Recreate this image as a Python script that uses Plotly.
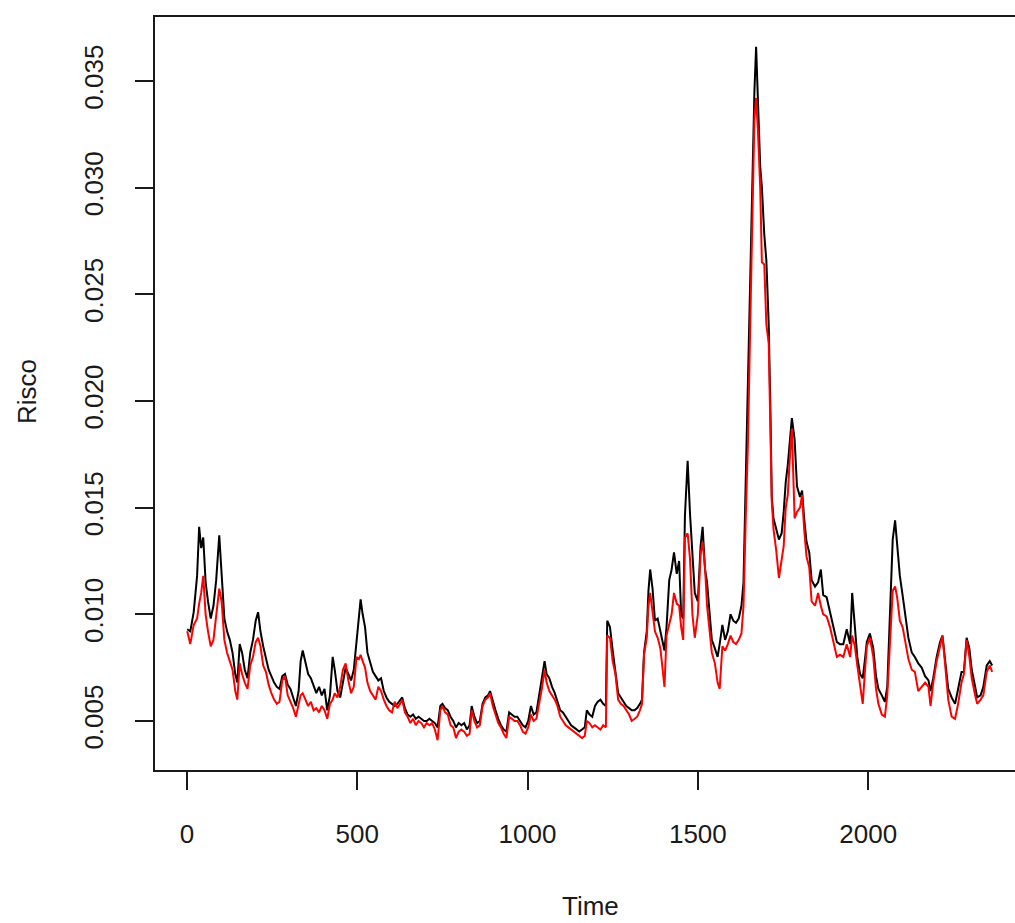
import plotly.graph_objects as go

# Time index of the sampled observations
time = [
    1, 10, 20, 30, 36, 42, 48, 55, 62, 70, 78, 86, 95, 102, 110, 118, 126, 134, 142, 148,
    155, 162, 170, 178, 186, 194, 202, 209, 216, 224, 232, 240, 248, 256, 264, 272, 280, 288, 296, 304,
    312, 320, 328, 334, 340, 348, 356, 364, 372, 380, 388, 396, 404, 412, 420, 428, 434, 442, 450, 458,
    466, 474, 482, 490, 498, 505, 510, 516, 523, 530, 538, 546, 554, 562, 570, 578, 586, 594, 602, 610,
    618, 626, 632, 640, 648, 656, 664, 672, 680, 688, 696, 704, 712, 720, 728, 736, 744, 750, 758, 766,
    774, 782, 790, 798, 806, 814, 822, 830, 836, 844, 852, 860, 868, 876, 884, 890, 898, 906, 914, 922,
    930, 938, 946, 954, 962, 970, 978, 986, 994, 1002, 1010, 1018, 1026, 1034, 1042, 1050, 1056, 1064, 1072, 1080,
    1088, 1096, 1104, 1112, 1120, 1128, 1136, 1144, 1152, 1160, 1168, 1174, 1182, 1190, 1198, 1206, 1214, 1222, 1230, 1234,
    1242, 1250, 1258, 1266, 1274, 1282, 1290, 1298, 1306, 1314, 1322, 1330, 1336, 1342, 1350, 1355, 1360, 1367, 1374, 1382,
    1390, 1398, 1402, 1408, 1416, 1423, 1430, 1438, 1445, 1451, 1457, 1462, 1470, 1477, 1484, 1491, 1500, 1508, 1514, 1521,
    1527, 1534, 1541, 1550, 1558, 1564, 1572, 1580, 1588, 1596, 1604, 1612, 1620, 1628, 1634, 1641, 1647, 1654, 1661, 1666,
    1671, 1676, 1683, 1688, 1695, 1701, 1708, 1713, 1717, 1722, 1730, 1738, 1746, 1752, 1758, 1764, 1771, 1776, 1784, 1791,
    1800, 1806, 1812, 1819, 1827, 1834, 1844, 1853, 1861, 1868, 1878, 1888, 1898, 1908, 1917, 1927, 1937, 1947, 1953, 1961,
    1968, 1976, 1984, 1990, 1996, 2005, 2015, 2023, 2030, 2040, 2049, 2056, 2064, 2072, 2079, 2085, 2093, 2101, 2108, 2118,
    2128, 2137, 2147, 2157, 2167, 2177, 2183, 2191, 2201, 2211, 2218, 2225, 2235, 2245, 2255, 2264, 2274, 2281, 2289, 2297,
    2304, 2314, 2320, 2330, 2338, 2348, 2357, 2364,
]

# First risk series (drawn in black)
risco_1 = [
    0.0093, 0.0092, 0.0101, 0.0118, 0.0141, 0.0131, 0.0136, 0.0115, 0.0106, 0.0098, 0.0104, 0.0116, 0.0137, 0.0118, 0.0098, 0.0092, 0.0088, 0.0082, 0.0072, 0.0068,
    0.0086, 0.0082, 0.0074, 0.0070, 0.0082, 0.0088, 0.0097, 0.0101, 0.0092, 0.0085, 0.0080, 0.0074, 0.0071, 0.0068, 0.0066, 0.0065, 0.0071, 0.0072, 0.0067, 0.0065,
    0.0061, 0.0057, 0.0064, 0.0078, 0.0083, 0.0078, 0.0072, 0.0070, 0.0066, 0.0063, 0.0066, 0.0062, 0.0065, 0.0055, 0.0062, 0.0080, 0.0074, 0.0064, 0.0061, 0.0068,
    0.0075, 0.0072, 0.0069, 0.0074, 0.0088, 0.0100, 0.0107, 0.0100, 0.0094, 0.0082, 0.0078, 0.0073, 0.0071, 0.0069, 0.0070, 0.0064, 0.0061, 0.0059, 0.0058, 0.0057,
    0.0058, 0.0060, 0.0061, 0.0056, 0.0053, 0.0052, 0.0053, 0.0051, 0.0052, 0.0051, 0.0050, 0.0050, 0.0051, 0.0050, 0.0049, 0.0047, 0.0057, 0.0058, 0.0056, 0.0055,
    0.0052, 0.0050, 0.0047, 0.0049, 0.0048, 0.0049, 0.0046, 0.0048, 0.0057, 0.0052, 0.0049, 0.0050, 0.0058, 0.0061, 0.0062, 0.0064, 0.0059, 0.0055, 0.0051, 0.0048,
    0.0046, 0.0045, 0.0054, 0.0053, 0.0052, 0.0052, 0.0050, 0.0048, 0.0047, 0.0050, 0.0057, 0.0053, 0.0054, 0.0062, 0.0068, 0.0078, 0.0072, 0.0070, 0.0066, 0.0063,
    0.0059, 0.0055, 0.0054, 0.0052, 0.0050, 0.0048, 0.0047, 0.0046, 0.0045, 0.0046, 0.0047, 0.0055, 0.0053, 0.0052, 0.0057, 0.0059, 0.0060, 0.0058, 0.0057, 0.0097,
    0.0094, 0.0083, 0.0074, 0.0063, 0.0061, 0.0059, 0.0057, 0.0056, 0.0055, 0.0055, 0.0056, 0.0058, 0.0060, 0.0082, 0.0092, 0.0111, 0.0121, 0.0112, 0.0097, 0.0098,
    0.0092, 0.0086, 0.0083, 0.0094, 0.0116, 0.0121, 0.0129, 0.0119, 0.0125, 0.0100, 0.0098, 0.0146, 0.0172, 0.0147, 0.0130, 0.0110, 0.0106, 0.0132, 0.0141, 0.0121,
    0.0115, 0.0101, 0.0088, 0.0084, 0.0080, 0.0086, 0.0095, 0.0088, 0.0092, 0.0100, 0.0097, 0.0096, 0.0098, 0.0104, 0.0115, 0.0166, 0.0212, 0.0256, 0.0320, 0.0345,
    0.0366, 0.0341, 0.0310, 0.0300, 0.0278, 0.0266, 0.0236, 0.0196, 0.0155, 0.0145, 0.0140, 0.0135, 0.0138, 0.0148, 0.0162, 0.0170, 0.0183, 0.0192, 0.0182, 0.0160,
    0.0155, 0.0158, 0.0145, 0.0134, 0.0129, 0.0116, 0.0113, 0.0115, 0.0121, 0.0109, 0.0108, 0.0101, 0.0094, 0.0087, 0.0086, 0.0086, 0.0093, 0.0086, 0.0110, 0.0094,
    0.0080, 0.0072, 0.0070, 0.0078, 0.0087, 0.0091, 0.0084, 0.0071, 0.0065, 0.0062, 0.0059, 0.0066, 0.0105, 0.0135, 0.0144, 0.0133, 0.0118, 0.0109, 0.0100, 0.0089,
    0.0082, 0.0080, 0.0077, 0.0075, 0.0071, 0.0069, 0.0064, 0.0070, 0.0080, 0.0087, 0.0090, 0.0079, 0.0065, 0.0061, 0.0058, 0.0065, 0.0073, 0.0073, 0.0089, 0.0084,
    0.0074, 0.0066, 0.0061, 0.0062, 0.0066, 0.0076, 0.0078, 0.0076,
]

# Second risk series (drawn in red)
risco_2 = [
    0.0092, 0.0086, 0.0095, 0.0098, 0.0105, 0.0110, 0.0118, 0.0100, 0.0092, 0.0085, 0.0088, 0.0098, 0.0112, 0.0106, 0.0088, 0.0082, 0.0078, 0.0074, 0.0064, 0.0060,
    0.0077, 0.0072, 0.0068, 0.0065, 0.0076, 0.0080, 0.0087, 0.0089, 0.0085, 0.0076, 0.0073, 0.0067, 0.0063, 0.0060, 0.0058, 0.0059, 0.0069, 0.0071, 0.0062, 0.0059,
    0.0056, 0.0052, 0.0058, 0.0062, 0.0063, 0.0060, 0.0057, 0.0059, 0.0055, 0.0056, 0.0054, 0.0057, 0.0055, 0.0051, 0.0058, 0.0060, 0.0063, 0.0061, 0.0066, 0.0074,
    0.0077, 0.0069, 0.0063, 0.0066, 0.0080, 0.0079, 0.0081, 0.0078, 0.0075, 0.0068, 0.0064, 0.0062, 0.0060, 0.0066, 0.0064, 0.0060, 0.0057, 0.0055, 0.0054, 0.0059,
    0.0056, 0.0058, 0.0060, 0.0054, 0.0052, 0.0049, 0.0051, 0.0048, 0.0050, 0.0049, 0.0047, 0.0049, 0.0048, 0.0049, 0.0046, 0.0041, 0.0055, 0.0057, 0.0054, 0.0053,
    0.0048, 0.0047, 0.0042, 0.0045, 0.0046, 0.0045, 0.0043, 0.0044, 0.0055, 0.0050, 0.0047, 0.0048, 0.0057, 0.0060, 0.0061, 0.0063, 0.0057, 0.0053, 0.0049, 0.0047,
    0.0044, 0.0042, 0.0052, 0.0051, 0.0050, 0.0050, 0.0048, 0.0045, 0.0044, 0.0047, 0.0053, 0.0050, 0.0051, 0.0058, 0.0065, 0.0074, 0.0068, 0.0064, 0.0062, 0.0060,
    0.0057, 0.0052, 0.0050, 0.0048, 0.0047, 0.0046, 0.0045, 0.0044, 0.0043, 0.0042, 0.0043, 0.0050, 0.0049, 0.0047, 0.0048, 0.0047, 0.0046, 0.0048, 0.0047, 0.0090,
    0.0089, 0.0078, 0.0072, 0.0060, 0.0058, 0.0057, 0.0055, 0.0053, 0.0050, 0.0051, 0.0052, 0.0055, 0.0058, 0.0081, 0.0089, 0.0104, 0.0110, 0.0101, 0.0092, 0.0089,
    0.0084, 0.0072, 0.0066, 0.0090, 0.0096, 0.0100, 0.0110, 0.0105, 0.0104, 0.0094, 0.0088, 0.0136, 0.0138, 0.0126, 0.0100, 0.0089, 0.0100, 0.0128, 0.0134, 0.0122,
    0.0104, 0.0094, 0.0082, 0.0077, 0.0068, 0.0065, 0.0085, 0.0083, 0.0086, 0.0090, 0.0087, 0.0086, 0.0088, 0.0091, 0.0104, 0.0148, 0.0180, 0.0238, 0.0290, 0.0332,
    0.0342, 0.0328, 0.0300, 0.0265, 0.0264, 0.0236, 0.0227, 0.0194, 0.0153, 0.0140, 0.0130, 0.0117, 0.0126, 0.0132, 0.0150, 0.0156, 0.0176, 0.0187, 0.0145, 0.0148,
    0.0150, 0.0156, 0.0140, 0.0127, 0.0122, 0.0106, 0.0104, 0.0110, 0.0104, 0.0100, 0.0099, 0.0094, 0.0087, 0.0080, 0.0081, 0.0080, 0.0086, 0.0080, 0.0090, 0.0085,
    0.0076, 0.0067, 0.0058, 0.0072, 0.0085, 0.0089, 0.0080, 0.0065, 0.0058, 0.0053, 0.0052, 0.0062, 0.0089, 0.0111, 0.0113, 0.0108, 0.0097, 0.0094, 0.0088, 0.0079,
    0.0074, 0.0073, 0.0064, 0.0066, 0.0068, 0.0066, 0.0057, 0.0068, 0.0078, 0.0085, 0.0090, 0.0078, 0.0060, 0.0052, 0.0051, 0.0058, 0.0068, 0.0072, 0.0088, 0.0080,
    0.0070, 0.0062, 0.0058, 0.0060, 0.0062, 0.0073, 0.0076, 0.0073,
]

x_ticks = [0, 500, 1000, 1500, 2000]
y_ticks = [0.005, 0.010, 0.015, 0.020, 0.025, 0.030, 0.035]

FONT = "Liberation Sans Narrow, Arial Narrow, Liberation Sans, Arial, sans-serif"
INK = "#1a1a1a"

fig = go.Figure()
fig.add_trace(go.Scatter(x=time, y=risco_1, mode="lines",
                         line=dict(color="black", width=2), showlegend=False))
fig.add_trace(go.Scatter(x=time, y=risco_2, mode="lines",
                         line=dict(color="#ff0000", width=2), showlegend=False))

fig.update_layout(
    width=1015, height=923,
    margin=dict(l=155, r=0, t=17, b=153),
    paper_bgcolor="white", plot_bgcolor="white",
    font=dict(family=FONT, color=INK, size=26),
    xaxis=dict(
        range=[-93.6, 2431], tickmode="array", tickvals=x_ticks,
        ticktext=[str(v) for v in x_ticks],
        showgrid=False, zeroline=False,
        showline=True, linecolor=INK, linewidth=2, mirror=True,
        ticks="outside", ticklen=18, tickwidth=1.5, tickcolor=INK,
        ticklabelstandoff=22,
        tickfont=dict(family=FONT, size=26, color=INK),
    ),
    yaxis=dict(
        range=[0.0027, 0.0380], tickmode="array", tickvals=y_ticks,
        ticktext=[f"{v:.3f}" for v in y_ticks],
        showgrid=False, zeroline=False,
        showline=True, linecolor=INK, linewidth=2, mirror=False,
        ticks="outside", ticklen=18, tickwidth=1.5, tickcolor=INK,
        tickangle=-90, ticklabelstandoff=22,
        tickfont=dict(family=FONT, size=26, color=INK),
    ),
    annotations=[
        dict(text="Time", xref="paper", yref="paper",
             x=(590 - 155) / 860, y=(770 - 906) / 753,
             xanchor="center", yanchor="middle", showarrow=False,
             font=dict(family=FONT, size=26, color=INK)),
        dict(text="Risco", xref="paper", yref="paper",
             x=(27 - 155) / 860, y=(770 - 392) / 753,
             xanchor="center", yanchor="middle", showarrow=False, textangle=-90,
             font=dict(family=FONT, size=26, color=INK)),
    ],
)

fig.write_html("out.html")
